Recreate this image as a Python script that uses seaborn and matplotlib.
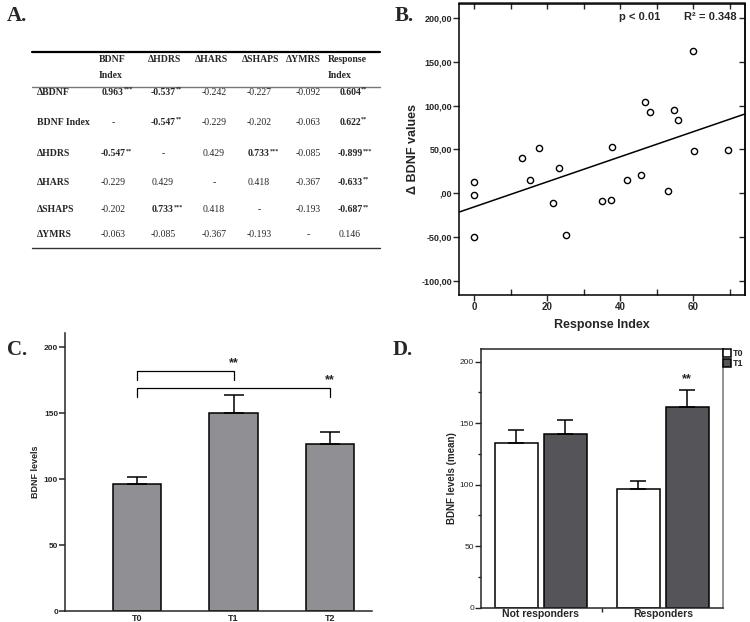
import numpy as np
import pandas as pd
import seaborn as sns
import matplotlib
matplotlib.use('Agg')
from matplotlib import pyplot as plt

# ---- panel A: correlation table
col_names = ['BDNF\nIndex', '\u0394HDRS', '\u0394HARS', '\u0394SHAPS', '\u0394YMRS', 'Response\nIndex']
row_names = ['\u0394BDNF', 'BDNF Index', '\u0394HDRS', '\u0394HARS', '\u0394SHAPS', '\u0394YMRS']
corr_vals = [
    ['0.963', '-0.537', '-0.242', '-0.227', '-0.092', '0.604'],
    ['-', '-0.547', '-0.229', '-0.202', '-0.063', '0.622'],
    ['-0.547', '-', '0.429', '0.733', '-0.085', '-0.899'],
    ['-0.229', '0.429', '-', '0.418', '-0.367', '-0.633'],
    ['-0.202', '0.733', '0.418', '-', '-0.193', '-0.687'],
    ['-0.063', '-0.085', '-0.367', '-0.193', '-', '0.146'],
]
corr_stars = [
    ['***', '**', '', '', '', '**'],
    ['', '**', '', '', '', '**'],
    ['**', '', '', '***', '', '***'],
    ['', '', '', '', '', '**'],
    ['', '***', '', '', '', '**'],
    ['', '', '', '', '', ''],
]

# ---- panel B: scatter
response_index = [0, 0, 0, 13.1, 15.3, 17.9, 21.5, 23.4, 25.1, 35.1, 37.5, 37.7,
                  41.8, 45.7, 46.8, 48.2, 53.2, 54.8, 55.8, 60.1, 60.3, 69.5]
delta_bdnf = [12.9, -1.5, -50.4, 40.5, 15.5, 51.5, -11.0, 28.5, -47.7, -8.7, -7.6, 52.6,
              15.5, 20.5, 103.8, 93.2, 2.3, 95.0, 83.7, 162.5, 48.0, 48.9]
b_yticks = [-100, -50, 0, 50, 100, 150, 200]
b_yticklabels = ['-100,00', '-50,00', ',00', '50,00', '100,00', '150,00', '200,00']

# ---- panel C: BDNF over time
c_times = ['T0', 'T1', 'T2']
c_means = [96.5, 150.2, 126.6]
c_errs = [5.5, 13.5, 9.6]
c_pairs = [(0, 1), (0, 2)]
c_pair_heights = [182.4, 169.2]

# ---- panel D: responders
d_groups = ['Not responders', 'Responders']
d_t0 = [134.1, 96.7]
d_t1 = [141.2, 163.4]
d_t0_err = [10.4, 6.6]
d_t1_err = [11.4, 13.6]

sns.set_style('ticks')
plt.rcParams['font.family'] = ['Liberation Sans', 'DejaVu Sans']
plt.rcParams['axes.linewidth'] = 1.1

W, H = 750, 622
fig = plt.figure(figsize=(7.5, 6.22), dpi=100)


def box(l, t, r, b):
    return [l / W, 1 - b / H, (r - l) / W, (b - t) / H]


serif = ['Liberation Serif', 'DejaVu Serif']
for lbl, x, y in [('A.', 7, 21), ('B.', 395, 21), ('C.', 7, 355), ('D.', 393, 355)]:
    fig.text(x / W, 1 - y / H, lbl, family=serif, fontweight='bold', fontsize=15, va='baseline')

# ---------------- A
ax_a = fig.add_axes(box(0, 0, 390, 280))
ax_a.set_xlim(0, 390)
ax_a.set_ylim(280, 0)
ax_a.axis('off')
head_x = [99, 148, 195, 242, 286, 328]
val_x = [113, 163, 214, 259, 308, 350]
row_y = [92.5, 122.5, 154, 182.5, 210, 234.5]
for name, x in zip(col_names, head_x):
    for k, part in enumerate(name.split('\n')):
        ax_a.text(x, 60 + 16 * k, part, family=serif, fontweight='bold', fontsize=7,
                  ha='left', va='center')
for i, (rname, y) in enumerate(zip(row_names, row_y)):
    ax_a.text(37, y, rname, family=serif, fontweight='bold', fontsize=7, ha='left', va='center')
    for j, x in enumerate(val_x):
        st = corr_stars[i][j]
        t = ax_a.text(x, y, corr_vals[i][j], family=serif, fontsize=7,
                      fontweight='bold' if st else 'normal', ha='center', va='center')
        if st:
            ax_a.annotate(st, xy=(1, 1), xycoords=t, ha='left', va='top', fontsize=4.5,
                          family=serif, fontweight='bold', xytext=(0, 1), textcoords='offset points')
ax_a.plot([32, 380], [51.7, 51.7], color='black', lw=1.6)
ax_a.plot([32, 380], [87.3, 87.3], color='#777777', lw=1.0)
ax_a.plot([32, 380], [248.3, 248.3], color='#333333', lw=1.0)

# ---------------- B
ax_b = fig.add_axes(box(459, 3.5, 745, 295))
scatter_df = pd.DataFrame({'ri': response_index, 'dbdnf': delta_bdnf})
ax_b.set_xlim(-4.1, 74.2)
ax_b.set_ylim(-116, 216.5)
sns.regplot(data=scatter_df, x='ri', y='dbdnf', ax=ax_b, ci=None, truncate=False,
            scatter_kws=dict(s=20, facecolors='white', edgecolors='black', linewidths=1.0, alpha=1),
            line_kws=dict(color='black', lw=1.1))
ax_b.set_xlim(-4.1, 74.2)
ax_b.set_ylim(-116, 216.5)
ax_b.set_yticks(b_yticks, b_yticklabels)
ax_b.set_xticks([0, 20, 40, 60])
ax_b.set_xticks([10, 30, 50, 70], minor=True)
ax_b.tick_params(which='major', direction='out', length=4, width=1, labelsize=6.5, pad=1)
ax_b.tick_params(axis='x', which='major', labelsize=7)
ax_b.tick_params(axis='x', which='minor', direction='in', length=4, width=1)
for t in ax_b.get_xticklabels() + ax_b.get_yticklabels():
    t.set_fontweight('bold')
sec_x = ax_b.secondary_xaxis('top')
sec_x.set_xticks([0, 10, 20, 30, 40, 50, 60, 70])
sec_x.tick_params(direction='in', length=4, width=1, labeltop=False)
sec_y = ax_b.secondary_yaxis('right')
sec_y.set_yticks(b_yticks)
sec_y.tick_params(direction='in', length=4, width=1, labelright=False)
for sp in ax_b.spines.values():
    sp.set_color('black')
ax_b.set_xlabel('Response Index', fontsize=9, fontweight='bold', labelpad=5)
ax_b.set_ylabel('\u0394 BDNF values', fontsize=9, fontweight='bold', labelpad=2)
ax_b.text(0.633, 0.954, 'p < 0.01', transform=ax_b.transAxes, ha='center', va='center',
          fontsize=8, fontweight='bold')
ax_b.text(0.878, 0.954, 'R\u00b2 = 0.348', transform=ax_b.transAxes, ha='center', va='center',
          fontsize=8, fontweight='bold')

# ---------------- C
ax_c = fig.add_axes(box(65, 333, 372, 611))
sns.barplot(x=c_times, y=c_means, color='#8f8f94', edgecolor='black', linewidth=1.1,
            width=0.5, saturation=1, ax=ax_c)
for bar, err in zip(ax_c.patches, c_errs):
    cx = bar.get_x() + bar.get_width() / 2
    ax_c.errorbar([cx], [bar.get_height()], yerr=[[0], [err]], fmt='none', ecolor='black',
                  elinewidth=1.1, capsize=7, capthick=1.1)
for (a, b), h in zip(c_pairs, c_pair_heights):
    ax_c.plot([a, a, b, b], [h - 7, h, h, h - 7], color='black', lw=0.9)
    ax_c.text(b, h + 6, '**', ha='center', va='center', fontsize=9, fontweight='bold')
ax_c.set_xlim(-0.746, 2.435)
ax_c.set_ylim(0, 211)
ax_c.set_yticks([0, 50, 100, 150, 200])
sns.despine(ax=ax_c)
ax_c.tick_params(axis='y', direction='out', length=4, width=1.1, labelsize=6, pad=1)
ax_c.tick_params(axis='x', length=0, labelsize=6.5, pad=2)
for t in ax_c.get_xticklabels() + ax_c.get_yticklabels():
    t.set_fontweight('bold')
ax_c.set_ylabel('BDNF levels', fontsize=6.5, fontweight='bold', labelpad=3)

# ---------------- D
ax_d = fig.add_axes(box(481, 349, 722.7, 607.7))
d_df = pd.DataFrame({
    'group': d_groups * 2,
    'time': ['T0'] * len(d_groups) + ['T1'] * len(d_groups),
    'mean': d_t0 + d_t1,
})
sns.barplot(data=d_df, x='group', y='mean', hue='time', palette={'T0': 'white', 'T1': '#545459'},
            edgecolor='black', linewidth=1.1, gap=0.11, saturation=1, ax=ax_d)
for cont, errs in zip(ax_d.containers, [d_t0_err, d_t1_err]):
    for bar, err in zip(cont, errs):
        cx = bar.get_x() + bar.get_width() / 2
        ax_d.errorbar([cx], [bar.get_height()], yerr=[[0], [err]], fmt='none', ecolor='black',
                      elinewidth=1.1, capsize=6, capthick=1.1)
last = ax_d.containers[1][1]
ax_d.text(last.get_x() + last.get_width() / 2, 186, '**', ha='center', va='center',
          fontsize=9, fontweight='bold')
ax_d.set_xlim(-0.49, 1.49)
ax_d.set_ylim(0, 210.3)
ax_d.set_yticks([0, 50, 100, 150, 200])
ax_d.set_yticks([25, 75, 125, 175], minor=True)
ax_d.set_xticks([0.5], minor=True)
ax_d.tick_params(axis='y', which='major', direction='out', length=4, width=1, labelsize=6, pad=1)
ax_d.tick_params(axis='y', which='minor', direction='out', length=2, width=1)
ax_d.tick_params(axis='x', which='major', length=0, labelsize=7.5, pad=1)
ax_d.tick_params(axis='x', which='minor', direction='out', length=3, width=1)
for t in ax_d.get_xticklabels():
    t.set_fontweight('bold')
ax_d.spines['right'].set_color('#777777')
ax_d.set_xlabel('')
ax_d.set_ylabel('BDNF levels (mean)', fontsize=7, fontweight='bold', labelpad=2)
sns.move_legend(ax_d, 'upper left', bbox_to_anchor=(1.0, 1.0), title=None, frameon=False,
                fontsize=6.5, handlelength=0.9, handleheight=0.9, handletextpad=0.2,
                labelspacing=0.15, borderpad=0, borderaxespad=0)
for t in ax_d.get_legend().get_texts():
    t.set_fontweight('bold')

fig.savefig('out.png', dpi=100)
